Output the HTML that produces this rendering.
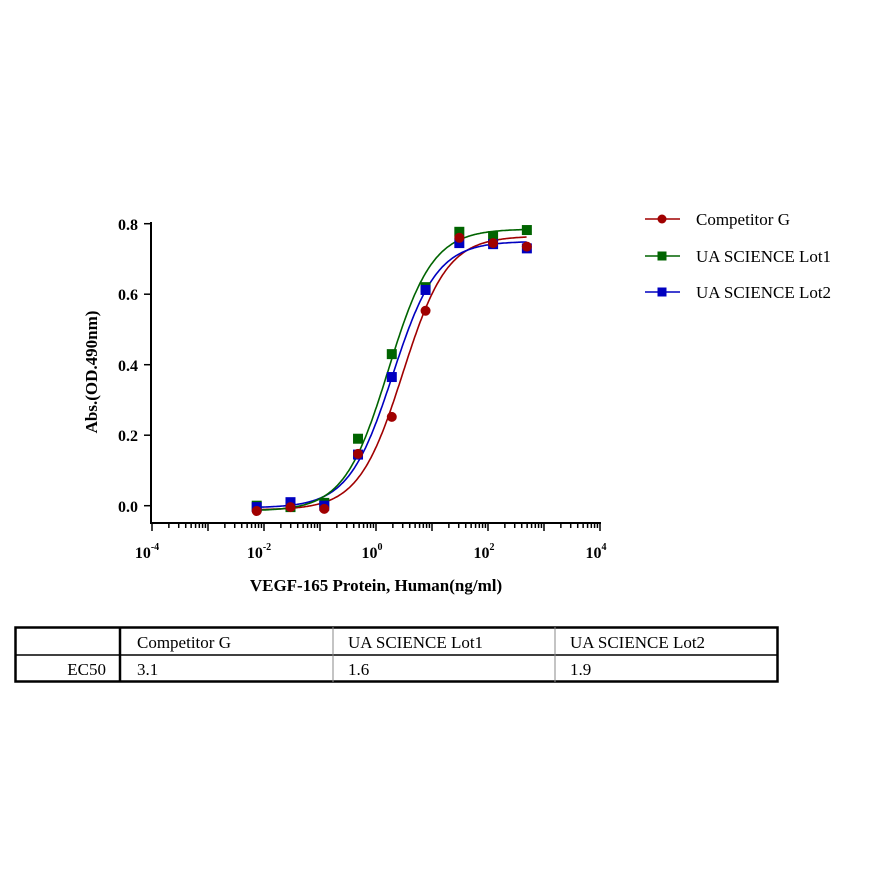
<!DOCTYPE html>
<html><head><style>
body{margin:0;background:#fff;width:880px;height:880px;overflow:hidden;font-family:"Liberation Serif",serif}
</style></head><body>
<svg width="880" height="880" xmlns="http://www.w3.org/2000/svg" font-family="Liberation Serif, serif">
<g id="axes" stroke="#000" stroke-width="2" fill="none">
<line x1="151" y1="222" x2="151" y2="524"/>
<line x1="150" y1="523" x2="601" y2="523"/>
</g>
<g id="ticks" stroke="#000" stroke-width="1.5"></g>
<g font-size="16" font-weight="bold" text-anchor="end">
<text x="138" y="230">0.8</text><text x="138" y="300">0.6</text><text x="138" y="371">0.4</text><text x="138" y="441">0.2</text><text x="138" y="512">0.0</text>
</g>
<g font-size="16" font-weight="bold" text-anchor="middle">
<text x="147" y="558">10<tspan font-size="10" dy="-8">-4</tspan></text>
<text x="259" y="558">10<tspan font-size="10" dy="-8">-2</tspan></text>
<text x="372" y="558">10<tspan font-size="10" dy="-8">0</tspan></text>
<text x="484" y="558">10<tspan font-size="10" dy="-8">2</tspan></text>
<text x="596" y="558">10<tspan font-size="10" dy="-8">4</tspan></text>
<text x="376" y="591" font-size="17">VEGF-165 Protein, Human(ng/ml)</text>
<text transform="translate(97,372) rotate(-90)" font-size="17">Abs.(OD.490nm)</text>
</g>
<g id="curves" fill="none" stroke-width="1.6"></g>
<g id="pts"></g>
<g font-size="17">
<line x1="645" y1="219" x2="680" y2="219" stroke="#a00000" stroke-width="1.6"/><circle cx="662" cy="219" r="4.5" fill="#a00000"/>
<text x="696" y="225">Competitor G</text>
<line x1="645" y1="256" x2="680" y2="256" stroke="#006400" stroke-width="1.6"/><rect x="657.5" y="251.5" width="9" height="9" fill="#006400"/>
<text x="696" y="262">UA SCIENCE Lot1</text>
<line x1="645" y1="292" x2="680" y2="292" stroke="#0000c0" stroke-width="1.6"/><rect x="657.5" y="287.5" width="9" height="9" fill="#0000c0"/>
<text x="696" y="298">UA SCIENCE Lot2</text>
</g>
<g stroke="#000" fill="none">
<rect x="15.5" y="627.5" width="762" height="54" stroke-width="2.5"/>
<line x1="15" y1="655" x2="778" y2="655" stroke-width="1.5"/>
<line x1="120" y1="627" x2="120" y2="682" stroke-width="2.5"/>
<line x1="333" y1="627" x2="333" y2="682" stroke="#888" stroke-width="1"/>
<line x1="555" y1="627" x2="555" y2="682" stroke="#888" stroke-width="1"/>
</g>
<g font-size="17">
<text x="137" y="648">Competitor G</text>
<text x="348" y="648">UA SCIENCE Lot1</text>
<text x="570" y="648">UA SCIENCE Lot2</text>
<text x="106" y="675" text-anchor="end">EC50</text>
<text x="137" y="675">3.1</text>
<text x="348" y="675">1.6</text>
<text x="570" y="675">1.9</text>
</g>
</svg>
<script>
function X(l){return 376+56*l}
function Y(v){return 505.7-v*352.5}
var t=document.getElementById('ticks'),s='';
for(var d=-4;d<4;d++){for(var k=1;k<10;k++){var l=d+Math.log10(k);var len=k==1?8:5;s+='<line x1="'+X(l)+'" y1="523" x2="'+X(l)+'" y2="'+(523+len)+'"/>';}}
s+='<line x1="'+X(4)+'" y1="523" x2="'+X(4)+'" y2="531"/>';
[0,0.2,0.4,0.6,0.8].forEach(function(v){s+='<line x1="144" y1="'+Y(v)+'" x2="151" y2="'+Y(v)+'"/>'});
t.innerHTML=s;
var xs=[];for(var i=0;i<9;i++)xs.push(-2.13+0.603*i);
var ser=[
{c:'#a00000',sh:'c',b:-0.012,t:0.765,e:0.48,h:1.1,d:[-0.015,-0.004,-0.009,0.147,0.252,0.553,0.76,0.745,0.735]},
{c:'#0000c0',sh:'s',b:-0.006,t:0.75,e:0.3,h:1.1,d:[-0.004,0.01,0.0,0.145,0.365,0.612,0.745,0.742,0.73]},
{c:'#006400',sh:'s',b:-0.015,t:0.785,e:0.22,h:1.1,d:[0.0,-0.004,0.008,0.19,0.43,0.62,0.777,0.765,0.782]}];
var cg='',pg='';
ser.forEach(function(o){var p='';for(var l=-2.13;l<=2.7;l+=0.02){var v=o.b+(o.t-o.b)/(1+Math.pow(10,(o.e-l)*o.h));p+=(p?'L':'M')+X(l).toFixed(1)+','+Y(v).toFixed(1);}
cg+='<path d="'+p+'" stroke="'+o.c+'"/>';});
[ser[2],ser[1],ser[0]].forEach(function(o){o.d.forEach(function(v,i){var x=X(xs[i]),y=Y(v);
pg+=o.sh=='c'?'<circle cx="'+x+'" cy="'+y+'" r="5" fill="'+o.c+'"/>':'<rect x="'+(x-5)+'" y="'+(y-5)+'" width="10" height="10" fill="'+o.c+'"/>';});});
document.getElementById('curves').innerHTML=cg;document.getElementById('pts').innerHTML=pg;
</script>
</body></html>
